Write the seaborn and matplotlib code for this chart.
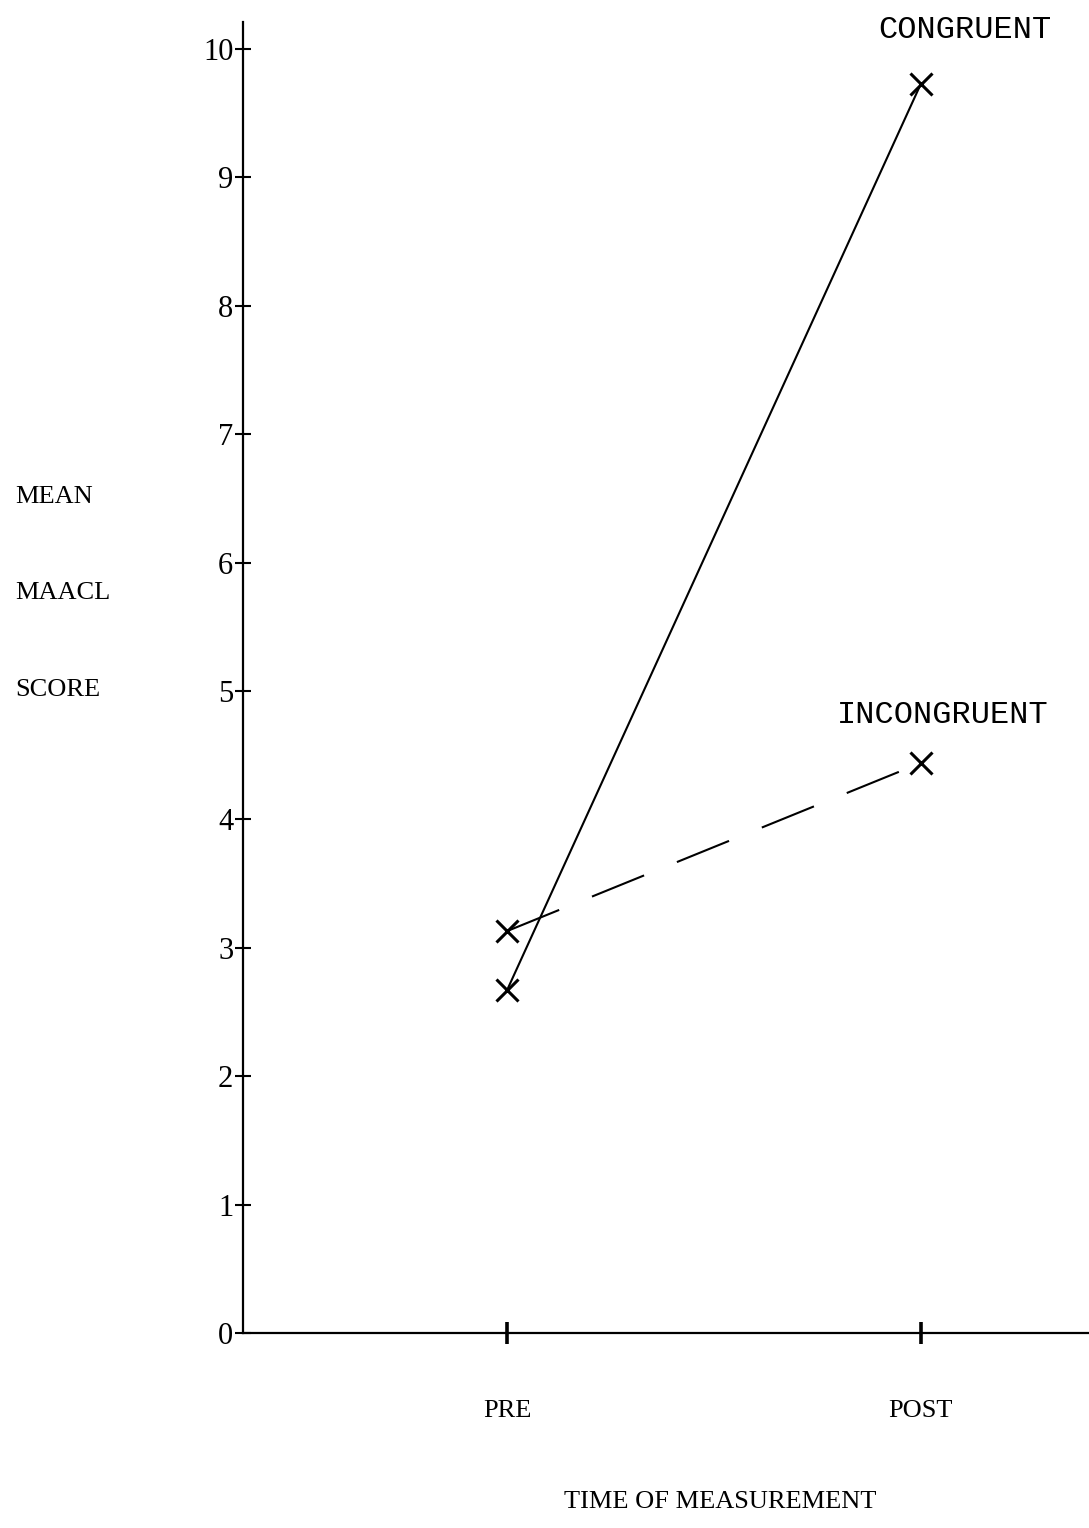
import matplotlib
matplotlib.use("Agg")
import matplotlib.pyplot as plt
import seaborn as sns
import pandas as pd

times = ["PRE", "POST"]
congruent = [2.67, 9.73]
incongruent = [3.13, 4.44]
y_ticks = [0, 1, 2, 3, 4, 5, 6, 7, 8, 9, 10]

sns.set_theme(style="white")
plt.rcParams['font.family'] = ['Liberation Serif', 'DejaVu Serif']
plt.rcParams['text.color'] = 'black'
plt.rcParams['xtick.color'] = 'black'
plt.rcParams['ytick.color'] = 'black'

W, H = 1089, 1528
fig = plt.figure(figsize=(W / 100, H / 100), dpi=100)
left, right, top, bottom = 243, 1089, 22, 1333
ax = fig.add_axes([left / W, 1 - bottom / H, (right - left) / W, (bottom - top) / H])

df_c = pd.DataFrame({"time": times, "score": congruent})
df_i = pd.DataFrame({"time": times, "score": incongruent})

sns.lineplot(data=df_c, x="time", y="score", ax=ax, color="black", lw=1.5,
             marker="x", markersize=16, markeredgewidth=2.2, markeredgecolor="black")
sns.lineplot(data=df_i, x="time", y="score", ax=ax, color="black", lw=1.5,
             marker="x", markersize=16, markeredgewidth=2.2, markeredgecolor="black",
             linestyle=(0, (27, 17)))

ax.set_xlim(-0.638, 1.406)
ax.set_ylim(0, 10.21)
ax.set_yticks(y_ticks)
ax.set_yticklabels([str(t) for t in y_ticks], fontsize=22)
ax.set_xticks([0, 1])
ax.set_xticklabels(times, fontsize=19)
ax.tick_params(axis="y", left=True, direction="inout", length=12, width=1.5, pad=1, colors="black")
ax.tick_params(axis="x", bottom=True, direction="inout", length=16, width=2.6, pad=40, colors="black")
ax.set_xlabel("")
ax.set_ylabel("")
for s in ["top", "right"]:
    ax.spines[s].set_visible(False)
for s in ["left", "bottom"]:
    ax.spines[s].set_color("black")
    ax.spines[s].set_linewidth(1.6)
ax.grid(False)

mono = ['Liberation Mono', 'DejaVu Sans Mono']
fig.text(965 / W, 1 - 30 / H, "CONGRUENT", ha="center", va="center",
         fontsize=23, family=mono)
fig.text(943 / W, 1 - 715 / H, "INCONGRUENT", ha="center", va="center",
         fontsize=23, family=mono)

for txt, yp in [("MEAN", 497), ("MAACL", 593), ("SCORE", 690)]:
    fig.text(15 / W, 1 - yp / H, txt, ha="left", va="center", fontsize=19)

fig.text(720 / W, 1 - 1502 / H, "TIME OF MEASUREMENT", ha="center", va="center", fontsize=19)

fig.savefig("out.png", dpi=100, facecolor="white")
